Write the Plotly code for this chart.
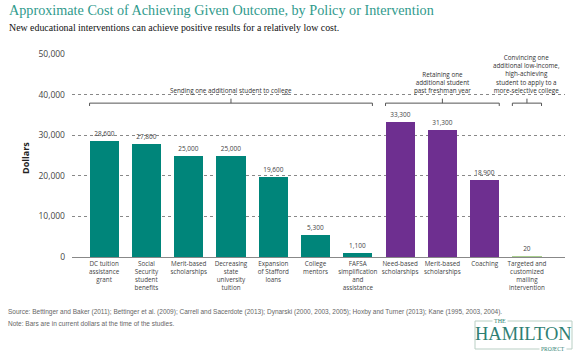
import plotly.graph_objects as go

# ---------------- data ----------------
categories = [
    "DC tuition<br>assistance<br>grant",
    "Social<br>Security<br>student<br>benefits",
    "Merit-based<br>scholarships",
    "Decreasing<br>state<br>university<br>tuition",
    "Expansion<br>of Stafford<br>loans",
    "College<br>mentors",
    "FAFSA<br>simplification<br>and<br>assistance",
    "Need-based<br>scholarships",
    "Merit-based<br>scholarships",
    "Coaching",
    "Targeted and<br>customized<br>mailing<br>intervention",
]
values = [28600, 27800, 25000, 25000, 19600, 5300, 1100, 33300, 31300, 18900, 20]
groups = ["college"] * 7 + ["retain"] * 3 + ["apply"]
y_ticks = [0, 10000, 20000, 30000, 40000, 50000]

group_colors = {"college": "#00857a", "retain": "#6e2f90", "apply": "#a8cf8e"}
brackets = [
    # (first index, last index, text)
    (0, 6, "Sending one additional student to college"),
    (7, 9, "Retaining one<br>additional student<br>past freshman year"),
    (10, 10, "Convincing one<br>additional low-income,<br>high-achieving<br>student to apply to a<br>more-selective college"),
]

TITLE = "Approximate Cost of Achieving Given Outcome, by Policy or Intervention"
SUBTITLE = "New educational interventions can achieve positive results for a relatively low cost."
SOURCE = ("Source: Bettinger and Baker (2011); Bettinger et al. (2009); Carrell and Sacerdote (2013); "
          "Dynarski (2000, 2003, 2005); Hoxby and Turner (2013); Kane (1995, 2003, 2004).")
NOTE = "Note: Bars are in current dollars at the time of the studies."

# ---------------- layout helpers ----------------
W, H = 582, 352
L, R, T, B = 72, 17, 54, 95
PW, PH = W - L - R, H - T - B
def px(x):
    return (x - L) / PW
def py(y):
    return (H - B - y) / PH

BAR_W = 0.69
x_idx = list(range(len(categories)))

fig = go.Figure()
fig.add_trace(go.Bar(
    x=x_idx, y=values, width=BAR_W,
    marker=dict(color=[group_colors[g] for g in groups], line=dict(width=0)),
    text=[f"{v:,}" for v in values], textposition="outside",
    textfont=dict(family="Open Sans", size=6.5, color="#444"),
    cliponaxis=False, hoverinfo="skip",
))

SANS = "Open Sans"
shapes = []
annotations = []
br_y, br_end, br_mid = 37900, 37200, 39000
for a, b, txt in brackets:
    x0, x1 = a - BAR_W / 2, b + BAR_W / 2
    xm = (x0 + x1) / 2
    line = dict(color="#555", width=1)
    shapes.append(dict(type="line", xref="x", yref="y", x0=x0, x1=x1, y0=br_y, y1=br_y, line=line))
    shapes.append(dict(type="line", xref="x", yref="y", x0=x0, x1=x0, y0=br_y, y1=br_end, line=line))
    shapes.append(dict(type="line", xref="x", yref="y", x0=x1, x1=x1, y0=br_y, y1=br_end, line=line))
    shapes.append(dict(type="line", xref="x", yref="y", x0=xm, x1=xm, y0=br_y, y1=br_mid, line=line))
    annotations.append(dict(x=xm, y=39300, xref="x", yref="y", text=txt, showarrow=False,
                            xanchor="center", yanchor="bottom", align="center",
                            font=dict(family=SANS, size=6.3, color="#333")))

# title / subtitle
annotations.append(dict(x=px(7), y=py(10), xref="paper", yref="paper", text=TITLE, showarrow=False,
                        xanchor="left", yanchor="middle",
                        font=dict(family="Liberation Serif", size=14.2, color="#2f9a8c")))
annotations.append(dict(x=px(7), y=py(27), xref="paper", yref="paper", text=SUBTITLE, showarrow=False,
                        xanchor="left", yanchor="middle",
                        font=dict(family="Liberation Serif", size=9.9, color="#111")))
# y axis title
annotations.append(dict(x=px(25), y=py(158), xref="paper", yref="paper", text="<b>Dollars</b>",
                        showarrow=False, textangle=-90, xanchor="center", yanchor="middle",
                        font=dict(family=SANS, size=9, color="#222")))
# source / note
annotations.append(dict(x=px(6), y=py(312), xref="paper", yref="paper", text=SOURCE, showarrow=False,
                        xanchor="left", yanchor="middle", font=dict(family="Liberation Sans", size=6.5, color="#666")))
annotations.append(dict(x=px(6), y=py(323), xref="paper", yref="paper", text=NOTE, showarrow=False,
                        xanchor="left", yanchor="middle", font=dict(family="Liberation Sans", size=6.5, color="#666")))

# logo
shapes.append(dict(type="rect", xref="paper", yref="paper", x0=px(475), x1=px(572), y0=py(349), y1=py(321),
                   line=dict(color="#b9cfc4", width=1)))
annotations.append(dict(x=px(500), y=py(321), xref="paper", yref="paper", text="THE", showarrow=False,
                        xanchor="center", yanchor="middle", bgcolor="white",
                        font=dict(family="Liberation Serif", size=6, color="#2f7f73")))
annotations.append(dict(x=px(523.5), y=py(334), xref="paper", yref="paper", text="HAMILTON", showarrow=False,
                        xanchor="center", yanchor="middle",
                        font=dict(family="Liberation Serif", size=18.5, color="#2f7f73")))
annotations.append(dict(x=px(553), y=py(349), xref="paper", yref="paper", text="PROJECT", showarrow=False,
                        xanchor="center", yanchor="middle", bgcolor="white",
                        font=dict(family="Liberation Serif", size=5.5, color="#2f7f73")))

fig.update_layout(
    width=W, height=H, margin=dict(l=L, r=R, t=T, b=B),
    paper_bgcolor="white", plot_bgcolor="white",
    showlegend=False, bargap=0,
    shapes=shapes, annotations=annotations,
    xaxis=dict(range=[-0.76, 10.9], tickvals=x_idx, ticktext=categories, tickangle=0,
               showgrid=False, zeroline=False, showline=True, linecolor="#888", linewidth=1,
               ticks="", tickfont=dict(family=SANS, size=6.3, color="#444"), fixedrange=True),
    yaxis=dict(range=[0, 50000], tickvals=y_ticks, tickformat=",", showgrid=True,
               gridcolor="#888", griddash="3px,3px", gridwidth=1, zeroline=False, showline=False,
               ticks="", ticklabelstandoff=6,
               tickfont=dict(family=SANS, size=8.5, color="#444"), fixedrange=True),
)

fig.write_html("out.html")
